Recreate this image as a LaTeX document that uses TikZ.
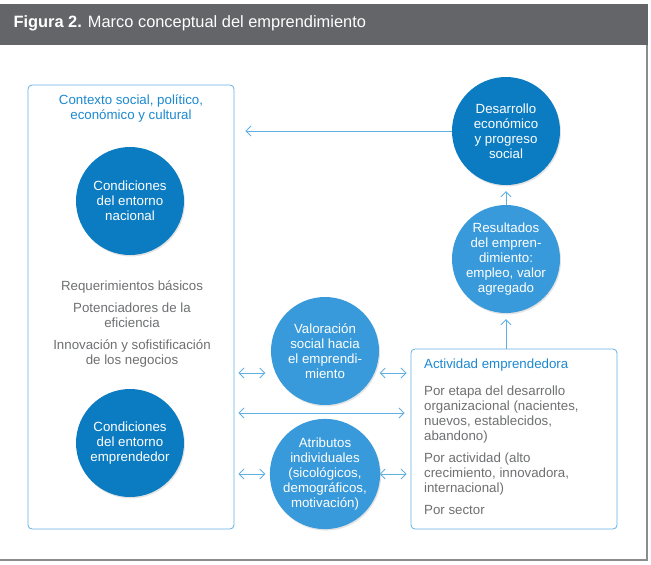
\documentclass[tikz,border=0pt]{standalone}
\usepackage{fontspec}
\setmainfont{Liberation Sans}
\usetikzlibrary{positioning,arrows.meta,shadows}

\definecolor{headgray}{HTML}{636569}
\definecolor{framegray}{HTML}{8C8C8C}
\definecolor{linkblue}{HTML}{62B0E2}
\definecolor{titleblue}{HTML}{1C88D0}
\definecolor{bodygray}{HTML}{6E6F71}
\definecolor{darkblue}{HTML}{0B7CC1}
\definecolor{lightblue}{HTML}{389ADA}

\begin{document}
\begin{tikzpicture}[
  x=1pt, y=-1pt,
  font=\fontsize{13.3}{15}\selectfont,
  bubble/.style={circle, fill=#1, text=white, minimum size=108pt, inner sep=0pt,
                 align=center, drop shadow={shadow xshift=1pt, shadow yshift=-1.5pt, opacity=0.22}},
  panel/.style={rectangle, rounded corners=4pt, draw=linkblue, line width=0.8pt},
  head/.style={text=titleblue, align=center},
  body/.style={text=bodygray},
  link/.style={-{Straight Barb[length=5pt, width=10pt]}, draw=linkblue, line width=0.9pt},
  dlink/.style={{Straight Barb[length=5pt, width=10pt]}-{Straight Barb[length=5pt, width=10pt]},
                draw=linkblue, line width=0.9pt},
]
\useasboundingbox (0,0) rectangle (651,565);

% ---- frame and title band ----
\draw[framegray, line width=1.2pt] (0,560) -- (647,560) -- (647,45);
\fill[headgray] (0,4) rectangle (648,45);
\node[anchor=west, text=white, font=\fontsize{16.4}{19}\selectfont] (title) at (10,23)
      {\textbf{Figura 2.} Marco conceptual del emprendimiento};

% ---- context panel ----
\node[panel, minimum width=206pt, minimum height=444pt] (ctx) at (131,307) {};
\node[head, below=7pt of ctx.north] (ctxtitle) {Contexto social, político,\\económico y cultural};
\node[bubble=darkblue] (nac) at (130,201) {Condiciones\\del entorno\\nacional};
\node[body, align=center] (pilares) at (132,324)
      {Requerimientos básicos\\[7pt]Potenciadores de la\\eficiencia\\[7pt]Innovación y sofistificación\\de los negocios};
\node[bubble=darkblue] (emp) at (130,443) {Condiciones\\del entorno\\emprendedor};

% ---- middle bubbles ----
\node[bubble=lightblue] (val) at (325,351) {Valoración\\social hacia\\el emprendi-\\miento};
\node[bubble=lightblue] (atr) at (325,474) {Atributos\\individuales\\(sicológicos,\\demográficos,\\motivación)};

% ---- right column ----
\node[bubble=darkblue] (desa) at (506,131) {Desarrollo\\económico\\y progreso\\social};
\node[bubble=lightblue] (resu) at (506,259) {Resultados\\del empren-\\dimiento:\\empleo, valor\\agregado};
\node[panel, minimum width=206pt, minimum height=180pt] (act) at (514,439) {};
\node[text=titleblue, anchor=north west] (acttitle) at ([xshift=10pt, yshift=-7pt]act.north west)
      {Actividad emprendedora};
\node[body, align=left, anchor=north west] (actbody) at ([yshift=-27pt]acttitle.north west)
      {Por etapa del desarrollo\\organizacional (nacientes,\\nuevos, establecidos,\\abandono)\\[7pt]Por actividad (alto\\crecimiento, innovadora,\\internacional)\\[7pt]Por sector};

% ---- connectors ----
\coordinate (ret) at ([xshift=11pt]ctx.east |- desa.west);
\draw[link] (desa.west) -- (ret);
\draw[link, shorten >=6pt] (resu.north) -- (desa.south);
\draw[link, shorten >=6pt] (resu.south |- act.north) -- (resu.south);

\coordinate (vrow) at (325,373);
\coordinate (mrow) at (325,413);
\draw[dlink] ([xshift=4pt]ctx.east |- vrow) -- ([xshift=31pt]ctx.east |- vrow);
\draw[dlink] ([xshift=-31pt]act.west |- vrow) -- ([xshift=-4pt]act.west |- vrow);
\draw[dlink] ([xshift=4pt]ctx.east |- mrow) -- ([xshift=-6pt]act.west |- mrow);
\draw[dlink] ([xshift=4pt]ctx.east |- atr) -- ([xshift=31pt]ctx.east |- atr);
\draw[dlink] ([xshift=-31pt]act.west |- atr) -- ([xshift=-4pt]act.west |- atr);

\end{tikzpicture}
\end{document}
